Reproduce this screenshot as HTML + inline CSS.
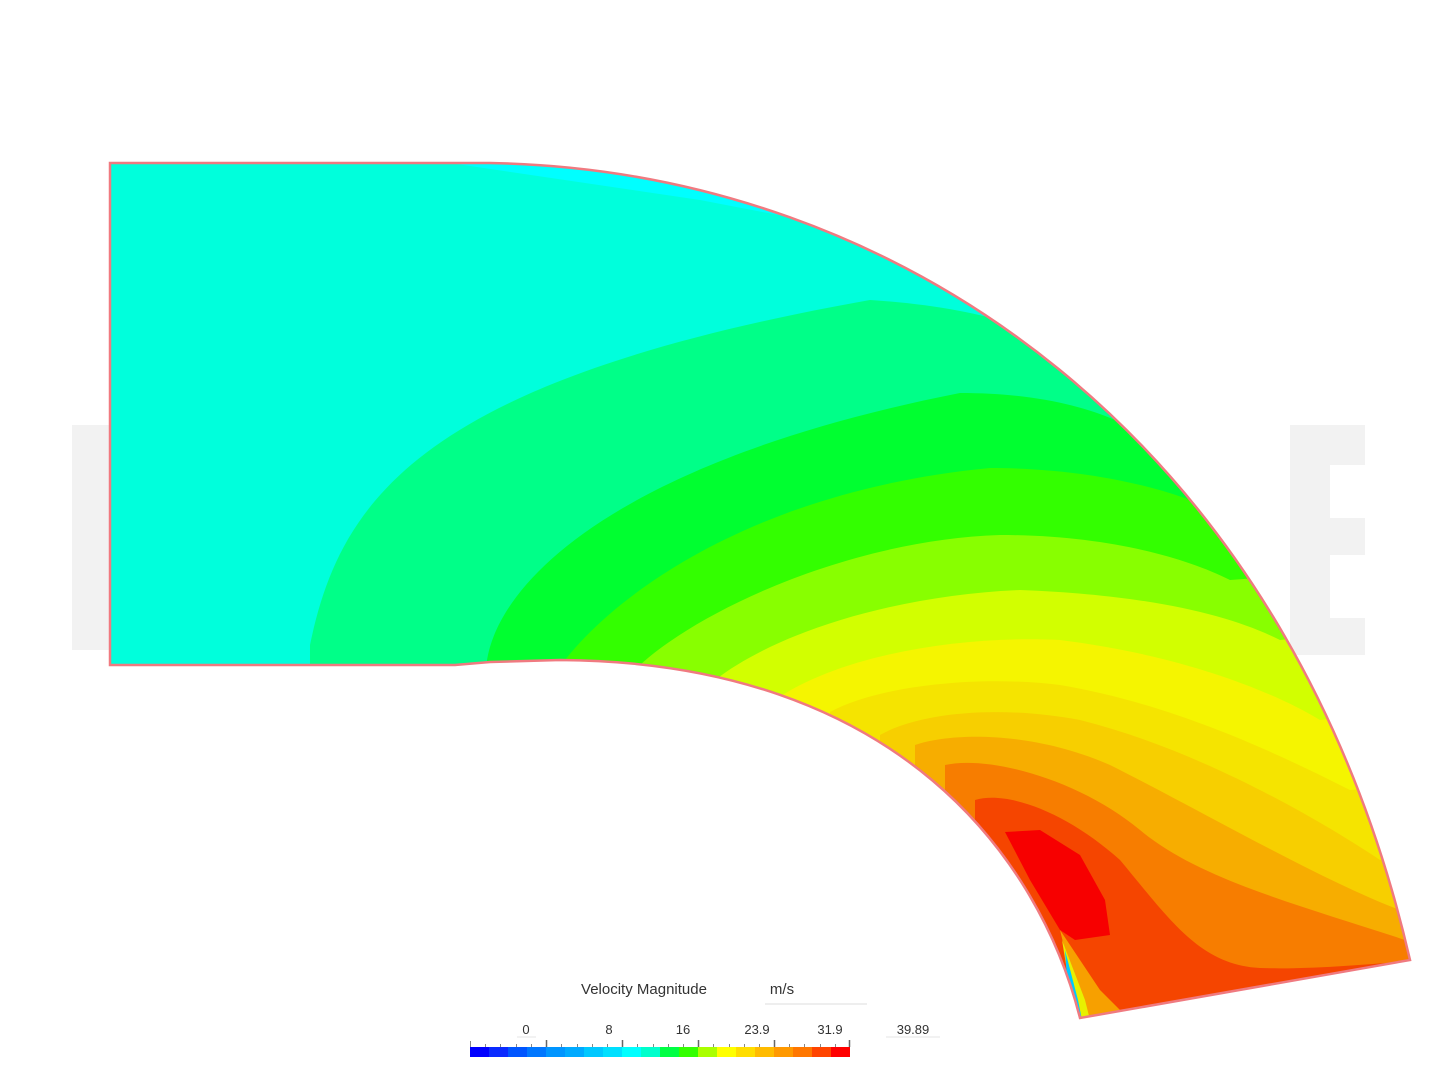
<!DOCTYPE html>
<html><head><style>
body{margin:0;background:#fff;}
svg{display:block;}
text{font-family:"Liberation Sans",sans-serif;}
</style></head><body>
<svg width="1440" height="1080" viewBox="0 0 1440 1080">
<defs>
<clipPath id="dom"><path d="M110,163 L490,163 C900,170 1290,440 1410,960 L1080,1018 C1040,860 900,662 560,660 L490,662 L455,665 L110,665 Z"/></clipPath>
</defs>
<g fill="#f2f2f2">
<path d="M72,425 L110,425 L110,650 L72,650 Z"/>
<rect x="1290" y="425" width="75" height="40"/>
<rect x="1290" y="425" width="40" height="230"/>
<rect x="1290" y="518" width="75" height="37"/>
<rect x="1290" y="618" width="75" height="37"/>
</g>
<g clip-path="url(#dom)">
<rect x="100" y="150" width="1330" height="900" fill="#00ffdc"/>
<path d="M450,163 C700,168 880,200 960,250 L700,200 Z" fill="#00ffff"/>
<path d="M310,1100 L310,645 C340,500 420,380 870,300 C950,305 1010,320 1060,340 L1500,300 L1500,1100 Z" fill="#00ff88"/>
<path d="M487,1100 L487,660 C500,580 620,460 960,393 C1030,393 1080,405 1115,420 L1500,400 L1500,1100 Z" fill="#00ff30"/>
<path d="M565,1100 L565,660 C620,590 760,490 990,468 C1080,468 1150,485 1190,500 L1500,500 L1500,1100 Z" fill="#33ff00"/>
<path d="M640,1100 L640,665 C700,610 850,540 1000,535 C1100,535 1180,555 1230,580 L1500,560 L1500,1100 Z" fill="#88ff00"/>
<path d="M715,1100 L715,680 C780,630 900,595 1020,590 C1150,595 1230,615 1280,640 L1500,620 L1500,1100 Z" fill="#d2ff00"/>
<path d="M775,1100 L775,700 C840,655 960,635 1060,640 C1180,655 1270,690 1320,720 L1500,700 L1500,1100 Z" fill="#f5f500"/>
<path d="M830,1100 L830,712 C880,685 980,675 1060,685 C1180,705 1290,760 1350,790 L1500,780 L1500,1100 Z" fill="#f5e400"/>
<path d="M880,1100 L880,735 C920,712 1000,705 1080,720 C1200,750 1320,820 1380,860 L1500,850 L1500,1100 Z" fill="#f7cf00"/>
<path d="M915,1100 L915,745 C950,733 1030,730 1110,765 C1200,810 1320,880 1400,910 L1500,900 L1500,1100 Z" fill="#f7ad00"/>
<path d="M945,1100 L945,765 C990,755 1080,780 1140,830 C1200,880 1300,905 1405,940 L1500,940 L1500,1100 Z" fill="#f77d00"/>
<path d="M975,1100 L975,800 C1010,790 1070,815 1120,860 C1170,920 1200,965 1260,968 C1320,970 1380,962 1410,962 L1500,962 L1500,1100 Z" fill="#f54500"/>
<path d="M1005,832 L1040,830 L1080,855 L1105,900 L1110,935 L1075,940 L1060,930 L1030,880 Z" fill="#f70000"/>
<path d="M1060,930 L1100,990 L1120,1010 L1082,1020 Z" fill="#f7a000"/>
<path d="M1062,940 L1085,1000 L1090,1020 L1075,1020 Z" fill="#e8f000"/>
<path d="M1065,950 L1078,1000 L1082,1020 L1070,1020 Z" fill="#00c8ff"/>
</g>
<path d="M110,163 L490,163 C900,170 1290,440 1410,960 L1080,1018 C1040,860 900,662 560,660 L490,662 L455,665 L110,665 Z" fill="none" stroke="#f07a80" stroke-width="2.5"/>
<text x="644" y="994" font-size="15" fill="#333" text-anchor="middle">Velocity Magnitude</text>
<text x="782" y="994" font-size="15" fill="#333" text-anchor="middle">m/s</text>
<line x1="765" y1="1004" x2="867" y2="1004" stroke="#ddd"/>
<g font-size="13" fill="#333" text-anchor="middle">
<text x="526" y="1034">0</text><text x="609" y="1034">8</text><text x="683" y="1034">16</text><text x="757" y="1034">23.9</text><text x="830" y="1034">31.9</text><text x="913" y="1034">39.89</text>
</g>
<line x1="517" y1="1037" x2="536" y2="1037" stroke="#e6e6e6"/>
<line x1="886" y1="1037" x2="940" y2="1037" stroke="#e6e6e6"/>
<g>
<rect x="470" y="1047" width="19" height="10" fill="#0000ff"/>
<rect x="489" y="1047" width="19" height="10" fill="#0a2aff"/>
<rect x="508" y="1047" width="19" height="10" fill="#0055ff"/>
<rect x="527" y="1047" width="19" height="10" fill="#0077ff"/>
<rect x="546" y="1047" width="19" height="10" fill="#0095ff"/>
<rect x="565" y="1047" width="19" height="10" fill="#00aaff"/>
<rect x="584" y="1047" width="19" height="10" fill="#00c8ff"/>
<rect x="603" y="1047" width="19" height="10" fill="#00e0ff"/>
<rect x="622" y="1047" width="19" height="10" fill="#00ffff"/>
<rect x="641" y="1047" width="19" height="10" fill="#00ffcc"/>
<rect x="660" y="1047" width="19" height="10" fill="#00ff44"/>
<rect x="679" y="1047" width="19" height="10" fill="#33ff00"/>
<rect x="698" y="1047" width="19" height="10" fill="#aaff00"/>
<rect x="717" y="1047" width="19" height="10" fill="#ffff00"/>
<rect x="736" y="1047" width="19" height="10" fill="#ffdd00"/>
<rect x="755" y="1047" width="19" height="10" fill="#ffbb00"/>
<rect x="774" y="1047" width="19" height="10" fill="#ff9900"/>
<rect x="793" y="1047" width="19" height="10" fill="#ff7700"/>
<rect x="812" y="1047" width="19" height="10" fill="#ff4400"/>
<rect x="831" y="1047" width="19" height="10" fill="#ff0000"/>
</g>
<g stroke="#888" stroke-width="1">
<path d="M470.5,1041V1047M485.5,1044V1047M500.5,1044V1047M516.5,1044V1047M531.5,1044V1047M561.5,1044V1047M577.5,1044V1047M592.5,1044V1047M607.5,1044V1047M637.5,1044V1047M653.5,1044V1047M668.5,1044V1047M683.5,1044V1047M713.5,1044V1047M729.5,1044V1047M744.5,1044V1047M759.5,1044V1047M789.5,1044V1047M804.5,1044V1047M820.5,1044V1047M835.5,1044V1047"/>
</g>
<g stroke="#666" stroke-width="1.5">
<path d="M546.5,1040V1047M622.5,1040V1047M698.5,1040V1047M774.5,1040V1047M849.5,1040V1047"/>
</g>
</svg>
</body></html>
